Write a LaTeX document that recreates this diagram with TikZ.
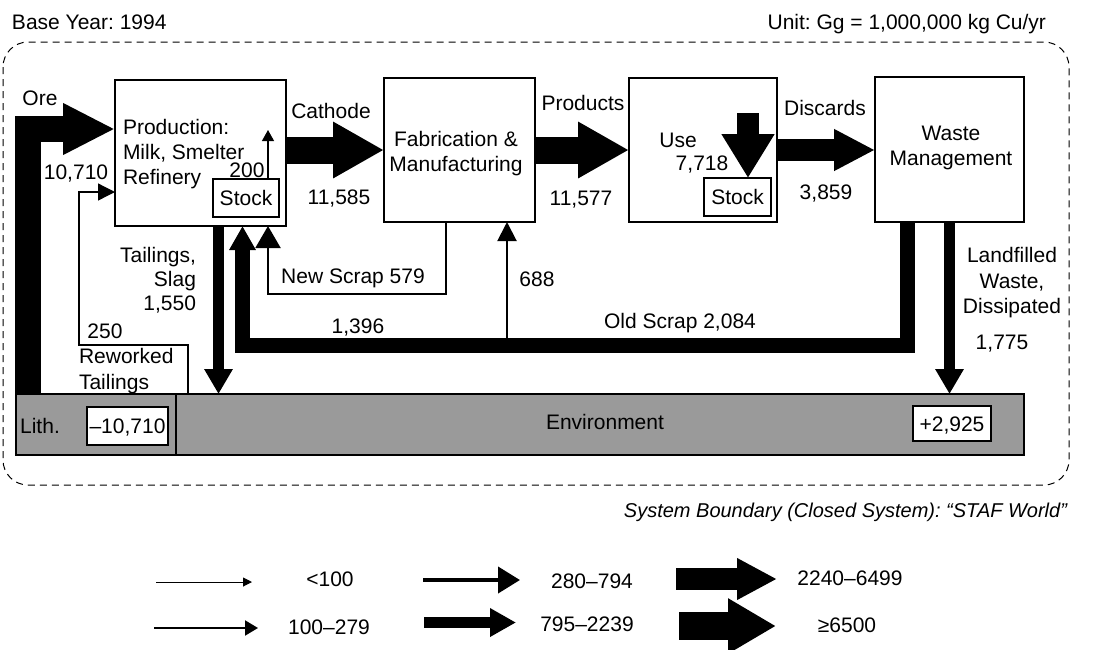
\documentclass[tikz,border=0pt]{standalone}
\usepackage{fontspec}
\setmainfont{Liberation Sans}
\usetikzlibrary{arrows.meta}
\definecolor{envgray}{RGB}{154,154,154}
\frenchspacing
\begin{document}
\begin{tikzpicture}[x=1pt,y=-1pt,
  every node/.style={inner sep=0pt, outer sep=0pt},
  lbl/.style={font=\fontsize{21}{25}\selectfont, text height=15pt, text depth=0pt},
  mlbl/.style={font=\fontsize{21}{25}\selectfont},
  box/.style={draw, line width=1.3pt, fill=white},
  stockbox/.style={box, font=\fontsize{21}{25}\selectfont, text height=15pt, text depth=0pt},
  envbar/.style={draw, line width=1.2pt, fill=envgray},
  boundary/.style={line width=1pt, dash pattern=on 7pt off 5pt, rounded corners=25pt},
  big/.style={line width=27pt, -{Triangle[length=51pt,width=53pt]}},
  large/.style={line width=22pt, -{Triangle[length=41pt,width=39pt]}},
  medium/.style={line width=11pt, -{Triangle[length=25pt,width=27pt]}},
  small/.style={line width=2pt, -{Triangle[length=22pt,width=25pt]}},
  thin/.style={line width=1.3pt, -{Triangle[length=17pt,width=17pt]}},
]
\useasboundingbox (0,0) rectangle (1107,649);
\fill[white] (0,0) rectangle (1107,649);

% system boundary
\draw[boundary] (3,42) rectangle (1069,485);

% environment bar
\node[envbar, minimum width=160pt, minimum height=61pt] (lith) at (96,424.5) {};
\node[envbar, minimum width=848pt, minimum height=61pt] (env) at (600,424.5) {};
\node[box, stockbox, minimum width=81pt, minimum height=38pt] (lithval) at (127.5,426) {--10,710};
\node[box, stockbox, minimum width=78pt, minimum height=35pt] (envval) at (952,423.5) {+2,925};
\node[lbl] at (40,426) {Lith.};
\node[lbl] at (605,422) {Environment};

% process boxes
\node[box, minimum width=171pt, minimum height=146pt] (prod) at (200.5,153) {};
\node[box, minimum width=151pt, minimum height=144pt] (fab) at (459.5,150) {};
\node[box, minimum width=148pt, minimum height=144pt] (use) at (703,150) {};
\node[box, minimum width=149pt, minimum height=145pt] (waste) at (949.5,149.5) {};
\node[stockbox, minimum width=66pt, minimum height=38pt] (prodstock) at (246,198) {Stock};
\node[stockbox, minimum width=67pt, minimum height=38pt] (usestock) at (737.5,197) {Stock};

\node[mlbl, align=left, anchor=north west] at (123,119.4) {Production:\\Milk, Smelter\\Refinery};
\node[mlbl, align=center, anchor=north] at (456,131.4) {Fabrication \&\\Manufacturing};
\node[mlbl, align=center, anchor=north] at (951,126.4) {Waste\\Management};
\node[lbl] at (678,140) {Use};

% coordinates
\coordinate (ore1) at (28,129);
\coordinate (s200) at (268,130);
\coordinate (u1) at (748,113);
\coordinate (tl) at (218.5,300);
\coordinate (os1) at (907,345.5);
\coordinate (os2) at (242.5,345.5);
\coordinate (ns1) at (446,294);
\coordinate (ns2) at (268,294);
\coordinate (j688) at (507,345.5);
\coordinate (rw1) at (188,345);
\coordinate (rw2) at (79,345);
\coordinate (rw3) at (79,192);

% flows
\draw[line width=26pt, -{Triangle[length=52pt,width=48pt]}] (lith.north -| ore1) -- (ore1) -- (prod.west |- ore1);
\draw[big] (fab.west -| prod.east) -- (fab.west);
\draw[big] (fab.east) -- (use.west);
\draw[large] (use.east) -- (use.east -| waste.west);
\draw[line width=22pt, -{Triangle[length=44pt,width=50pt]}] (u1) -- (usestock.north -| u1);
\draw[thin, line width=1.2pt, -{Triangle[length=11pt,width=12pt]}] (prodstock.north -| s200) -- (s200);
\draw[medium] (prod.south -| tl) -- (env.north -| tl);
\draw[medium] (waste.south) -- (waste.south |- env.north);
\draw[line width=15pt, -{Triangle[length=24pt,width=25pt]}] (waste.south -| os1) -- (os1) -- (os2) -- (prod.south -| os2);
\draw[small] (fab.south -| ns1) -- (ns1) -- (ns2) -- (prod.south -| ns2);
\draw[small, -{Triangle[length=19pt,width=19pt]}] (j688) -- (fab.south -| j688);
\draw[thin] (env.north -| rw1) -- (rw1) -- (rw2) -- (rw3) -- (prod.west |- rw3);

% labels
\node[lbl] at (40,98) {Ore};
\node[lbl] at (76,172) {10,710};
\node[lbl] at (247,170) {200};
\node[lbl] at (331,111) {Cathode};
\node[lbl] at (339,197) {11,585};
\node[lbl] at (583,103) {Products};
\node[lbl] at (581,198) {11,577};
\node[lbl] at (702,163) {7,718};
\node[lbl] at (825,108) {Discards};
\node[lbl] at (826,192) {3,859};
\node[mlbl, align=right, anchor=north east, font=\fontsize{21}{24}\selectfont] at (196,247.4) {Tailings,\\Slag\\1,550};
\node[lbl] at (105,331) {250};
\node[mlbl, align=left, anchor=north west, font=\fontsize{21}{26}\selectfont] at (79,348.4) {Reworked\\Tailings};
\node[lbl] at (353,276) {New Scrap 579};
\node[lbl] at (537,279) {688};
\node[lbl] at (358,326) {1,396};
\node[lbl] at (680,321) {Old Scrap 2,084};
\node[mlbl, align=center, anchor=north, font=\fontsize{21}{25.5}\selectfont] at (1012,247.4) {Landfilled\\Waste,\\Dissipated};
\node[lbl] at (1002,342) {1,775};

% header / footer
\node[lbl, anchor=west] at (12,22) {Base Year: 1994};
\node[lbl, anchor=east] at (1046,22) {Unit: Gg = 1,000,000 kg Cu/yr};
\node[lbl, anchor=east, font=\fontsize{20}{24}\selectfont\itshape] at (1067,510) {System Boundary (Closed System): “STAF World”};

% legend
\coordinate (la1) at (156,582); \coordinate (lb1) at (252,582);
\coordinate (la2) at (154,628); \coordinate (lb2) at (258,628);
\coordinate (la3) at (423,580); \coordinate (lb3) at (520,580);
\coordinate (la4) at (424,622.5); \coordinate (lb4) at (516,622.5);
\coordinate (la5) at (676,579); \coordinate (lb5) at (777,579);
\coordinate (la6) at (679,626); \coordinate (lb6) at (776,626);
\draw[line width=1pt, -{Triangle[length=9pt,width=9pt]}] (la1) -- (lb1);
\draw[line width=2pt, -{Triangle[length=13pt,width=15pt]}] (la2) -- (lb2);
\draw[line width=4pt, -{Triangle[length=22pt,width=26pt]}] (la3) -- (lb3);
\draw[line width=11pt, -{Triangle[length=26pt,width=27pt]}] (la4) -- (lb4);
\draw[line width=22pt, -{Triangle[length=40pt,width=39pt]}] (la5) -- (lb5);
\draw[line width=28pt, -{Triangle[length=48pt,width=52pt]}] (la6) -- (lb6);
\node[lbl] at (330,579) {<100};
\node[lbl] at (329,627) {100--279};
\node[lbl] at (592,581) {280--794};
\node[lbl] at (587,624) {795--2239};
\node[lbl] at (850,578) {2240--6499};
\node[lbl] at (847,625) {≥6500};
\end{tikzpicture}
\end{document}
